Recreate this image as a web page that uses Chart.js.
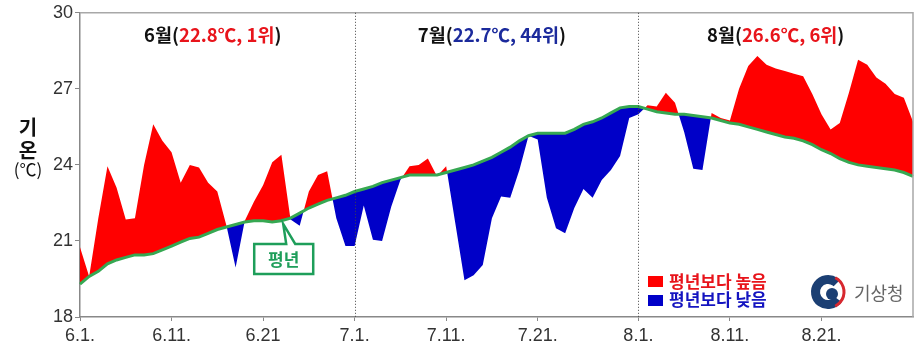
<!DOCTYPE html>
<html><head><meta charset="utf-8">
<script src="https://cdn.jsdelivr.net/npm/chart.js@4.4.1/dist/chart.umd.min.js"></script>
<style>html,body{margin:0;padding:0;background:#fff}#wrap{width:919px;height:361px}</style>
</head><body><div id="wrap"><canvas id="c" width="919" height="361"></canvas></div>
<script>
// ---- data ----
const monthNums = [6, 7, 8];
const monthDays = [30, 31, 31];
const monthAvg = ['22.8℃', '22.7℃', '26.6℃'];
const monthRank = ['1위', '44위', '6위'];
const monthColor = ['#e8141b', '#1b2a9c', '#e8141b'];
const tickDays = [0, 10, 20, 30, 40, 50, 61, 71, 81];
const tickLabels = ['6.1.', '6.11.', '6.21', '7.1.', '7.11.', '7.21.', '8.1.', '8.11.', '8.21.'];
const yTicks = [18, 21, 24, 27, 30];
const normalTemp = [
  19.3, 19.6, 19.8, 20.1, 20.25, 20.35, 20.45, 20.45, 20.5, 20.65,
  20.8, 20.95, 21.1, 21.15, 21.3, 21.45, 21.55, 21.65, 21.75, 21.8,
  21.8, 21.75, 21.8, 21.9, 22.1, 22.3, 22.45, 22.6, 22.7, 22.8,
  22.95, 23.05, 23.15, 23.3, 23.4, 23.5, 23.6, 23.6, 23.6, 23.6,
  23.7, 23.8, 23.9, 24.0, 24.15, 24.3, 24.5, 24.7, 24.95, 25.15,
  25.25, 25.25, 25.25, 25.25, 25.4, 25.6, 25.7, 25.85, 26.05, 26.25,
  26.3, 26.3, 26.2, 26.1, 26.05, 26.0, 26.0, 25.95, 25.9, 25.85,
  25.75, 25.65, 25.6, 25.5, 25.4, 25.3, 25.2, 25.1, 25.05, 24.95,
  24.8, 24.6, 24.45, 24.25, 24.1, 24.0, 23.95, 23.9, 23.85, 23.8,
  23.7, 23.55
];
const dailyTemp = [
  20.75, 19.6, 21.9, 23.95, 23.1, 21.85, 21.9, 24.0, 25.6, 24.95,
  24.5, 23.3, 24.0, 23.9, 23.3, 22.95, 21.6, 19.95, 21.8, 22.55,
  23.2, 24.1, 24.4, 21.85, 21.6, 22.95, 23.6, 23.75, 21.9, 20.8,
  20.8, 22.4, 21.05, 21.0, 22.35, 23.4, 23.95, 24.0, 24.25, 23.55,
  23.95, 21.7, 19.45, 19.65, 20.05, 21.9, 22.75, 22.7, 23.8, 25.15,
  25.0, 22.7, 21.5, 21.3, 22.3, 23.05, 22.7, 23.4, 23.8, 24.35,
  25.85, 26.0, 26.35, 26.3, 26.85, 26.45, 25.3, 23.85, 23.8, 26.05,
  25.85, 25.75, 27.0, 27.9, 28.3, 27.95, 27.8, 27.7, 27.6, 27.5,
  26.8, 26.0, 25.4, 25.65, 26.85, 28.15, 27.95, 27.45, 27.2, 26.8,
  26.65, 25.7
];
const categories = [];
monthNums.forEach((m, k) => { for (let d = 1; d <= monthDays[k]; d++) categories.push(m + '.' + d); });

const KR = '"Noto Sans CJK KR", "Noto Sans", sans-serif';
const LAT = '"Liberation Sans", Arial, sans-serif';

const overlay = {
  id: 'overlay',
  afterDatasetsDraw(chart) {
    const { ctx, chartArea: a, scales: { x, y } } = chart;
    ctx.save();
    // frame top/right
    ctx.strokeStyle = '#a8a8a8'; ctx.lineWidth = 1.5;
    ctx.beginPath();
    ctx.moveTo(a.left, a.top); ctx.lineTo(a.right, a.top); ctx.lineTo(a.right, a.bottom);
    ctx.stroke();
    // month dividers
    ctx.strokeStyle = '#444'; ctx.lineWidth = 1; ctx.setLineDash([1, 2]);
    let idx = 0;
    for (let m = 1; m < monthDays.length; m++) {
      idx += monthDays[m - 1];
      const px = Math.round(x.getPixelForValue(idx)) + 0.5;
      ctx.beginPath(); ctx.moveTo(px, a.top); ctx.lineTo(px, a.bottom); ctx.stroke();
    }
    ctx.setLineDash([]);
    // month titles
    let start = 0;
    ctx.textBaseline = 'middle';
    ctx.textAlign = 'left';
    ctx.font = 'bold 18.5px ' + KR;
    for (let m = 0; m < monthDays.length; m++) {
      const cx = (x.getPixelForValue(start) + x.getPixelForValue(start + monthDays[m] - 1)) / 2;
      const parts = [[monthNums[m] + '월', '#111'], ['(', '#111'], [monthAvg[m] + ', ' + monthRank[m], monthColor[m]], [')', '#111']];
      const w = parts.reduce((s, p) => s + ctx.measureText(p[0]).width, 0);
      let px = cx - w / 2;
      parts.forEach(p => { ctx.fillStyle = p[1]; ctx.fillText(p[0], px, a.top + 22); px += ctx.measureText(p[0]).width; });
      start += monthDays[m];
    }
    // y title
    ctx.textAlign = 'center';
    ctx.fillStyle = '#111';
    ctx.font = 'bold 20px ' + KR;
    ctx.fillText('기', 28, 127);
    ctx.fillText('온', 28, 150);
    ctx.font = '17px ' + KR;
    ctx.fillText('(℃)', 28, 170);
    // callout 평년
    const tx = x.getPixelForValue(22.2), ty = y.getPixelForValue(21.75) + 2;
    const bx = tx - 29, by = ty + 20, bw = 59, bh = 30;
    ctx.strokeStyle = '#1e9e5a'; ctx.lineWidth = 2.5; ctx.lineJoin = 'miter';
    ctx.fillStyle = '#fff';
    ctx.beginPath();
    ctx.moveTo(bx, by); ctx.lineTo(tx + 3, by); ctx.lineTo(tx, ty); ctx.lineTo(tx + 12, by);
    ctx.lineTo(bx + bw, by); ctx.lineTo(bx + bw, by + bh); ctx.lineTo(bx, by + bh); ctx.closePath();
    ctx.fill(); ctx.stroke();
    ctx.fillStyle = '#1e9e5a'; ctx.font = 'bold 17px ' + KR;
    ctx.fillText('평년', bx + bw / 2, by + bh / 2 + 1);
    // legend
    const lx = a.right - 265;
    ctx.textAlign = 'left';
    ctx.font = 'bold 17px ' + KR;
    ctx.fillStyle = '#ff0000'; ctx.fillRect(lx, a.bottom - 41, 15, 11);
    ctx.fillStyle = '#e8141b'; ctx.fillText('평년보다 높음', lx + 21, a.bottom - 35);
    ctx.fillStyle = '#0000c8'; ctx.fillRect(lx, a.bottom - 22, 15, 11);
    ctx.fillStyle = '#1414c0'; ctx.fillText('평년보다 낮음', lx + 21, a.bottom - 17);
    // logo
    const lcx = a.right - 85, lcy = a.bottom - 25;
    ctx.lineCap = 'butt';
    ctx.strokeStyle = '#1b3f73'; ctx.lineWidth = 9;
    ctx.beginPath(); ctx.arc(lcx, lcy, 12.5, Math.PI * 0.2, Math.PI * 1.75); ctx.stroke();
    ctx.fillStyle = '#1b3f73';
    ctx.beginPath(); ctx.arc(lcx + 4, lcy + 2, 6, 0, Math.PI * 2); ctx.fill();
    ctx.strokeStyle = '#d7282f'; ctx.lineWidth = 3;
    ctx.beginPath(); ctx.arc(lcx, lcy, 16, -Math.PI * 0.35, Math.PI * 0.35); ctx.stroke();
    ctx.fillStyle = '#666'; ctx.font = '18px ' + KR;
    ctx.fillText('기상청', lcx + 26, lcy + 1);
    ctx.restore();
  }
};

new Chart(document.getElementById('c'), {
  type: 'line',
  data: {
    labels: categories,
    datasets: [
      { label: '평년', data: normalTemp, borderColor: '#36a852', borderWidth: 3, pointRadius: 0, fill: false, tension: 0 },
      { label: '기온', data: dailyTemp, borderColor: 'rgba(0,0,0,0)', borderWidth: 0, pointRadius: 0, tension: 0,
        fill: { target: 0, above: '#ff0000', below: '#0000c8' } }
    ]
  },
  options: {
    responsive: false, animation: false, devicePixelRatio: 1,
    layout: { padding: { top: 10, right: 6, left: 0, bottom: 0 } },
    plugins: { legend: { display: false }, tooltip: { enabled: false } },
    scales: {
      x: {
        type: 'category',
        afterBuildTicks: s => { s.ticks = s.ticks.filter(t => tickDays.includes(t.value)); },
        afterFit: s => { s.height = 44; },
        ticks: { autoSkip: false, maxRotation: 0, color: '#333', font: { family: LAT, size: 18 }, padding: 4,
          callback: v => tickLabels[tickDays.indexOf(v)] },
        grid: { drawOnChartArea: false, drawTicks: true, tickLength: 4, tickColor: '#888' },
        border: { color: '#888', width: 1.5 }
      },
      y: {
        min: 18, max: 30,
        afterBuildTicks: s => { s.ticks = yTicks.map(v => ({ value: v })); },
        afterFit: s => { s.width = 80; },
        ticks: { color: '#333', font: { family: LAT, size: 18 }, padding: 2 },
        grid: { drawOnChartArea: false, drawTicks: true, tickLength: 5, tickColor: '#888' },
        border: { color: '#888', width: 1.5 }
      }
    }
  },
  plugins: [overlay]
});
</script></body></html>
